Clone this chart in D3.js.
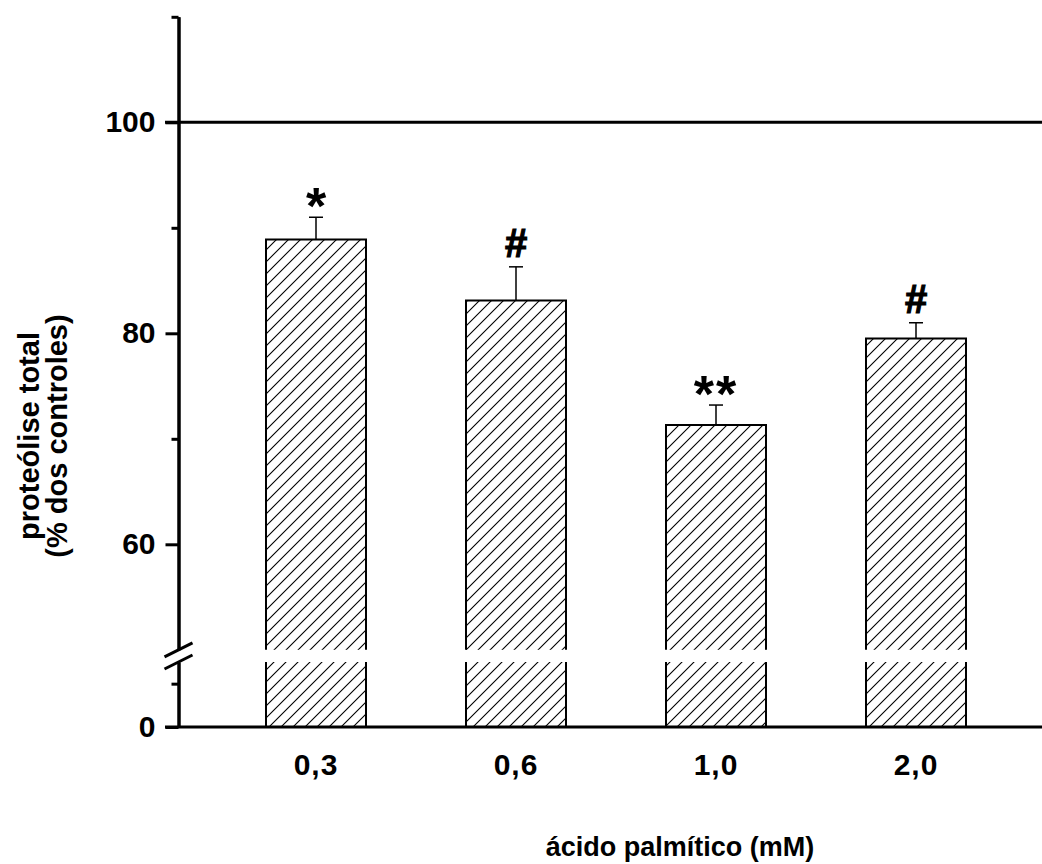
<!DOCTYPE html>
<html>
<head>
<meta charset="utf-8">
<script src="https://cdn.jsdelivr.net/npm/d3@7"></script>
<style>
  html, body { margin: 0; padding: 0; background: #fff; }
  svg { display: block; }
  text { font-family: "Liberation Sans", Arial, sans-serif; font-weight: bold; fill: #000; }
</style>
</head>
<body>
<svg id="chart" width="1042" height="864"></svg>
<script>
// Palmitic acid concentrations (mM) and total proteolysis (% of controls)
const doses = ["0,3", "0,6", "1,0", "2,0"];
const means = [88.9, 83.1, 71.3, 79.5];
const errors = [2.1, 3.2, 1.9, 1.5];
const marks = ["*", "#", "**", "#"];

// Axis ticks
const upperMajorTicks = [60, 80, 100];
const upperMinorTicks = [70, 90, 110];
const lowerMajorTicks = [0];
const lowerMinorTicks = [10];
const referenceLevel = 100;

const svg = d3.select("#chart");
const W = 1042, H = 864;
const axisX = 178.5;
const FONT = "'Liberation Sans', Arial, sans-serif";

// Broken y axis: an upper segment (50-110) and a short lower one (0-15)
const yUpper = d3.scaleLinear().domain([50, 110]).range([649.8, 16.8]);
const yLower = d3.scaleLinear().domain([0, 15]).range([727, 662]);
const x = d3.scaleBand().domain(doses).range([216, 1016])
  .paddingInner(0.5).paddingOuter(0.25);

// Diagonal hatch fill for the bars
const defs = svg.append("defs");
const pat = defs.append("pattern")
  .attr("id", "hatch").attr("patternUnits", "userSpaceOnUse")
  .attr("width", 12).attr("height", 12);
pat.append("rect").attr("width", 12).attr("height", 12).attr("fill", "#fff");
pat.append("path")
  .attr("d", "M0,12 L12,0 M-3,3 L3,-3 M9,15 L15,9")
  .attr("stroke", "#000").attr("stroke-width", 1.1);

const data = doses.map((d, i) => ({ dose: d, mean: means[i], err: errors[i], mark: marks[i] }));
const bw = x.bandwidth();

const bars = svg.append("g");
// upper pieces
bars.selectAll("rect.up").data(data).join("rect")
  .attr("class", "up")
  .attr("x", d => x(d.dose)).attr("width", bw)
  .attr("y", d => yUpper(d.mean))
  .attr("height", d => yUpper(50) - yUpper(d.mean))
  .attr("fill", "url(#hatch)");
bars.selectAll("path.upo").data(data).join("path")
  .attr("class", "upo")
  .attr("d", d => {
    const x0 = x(d.dose), x1 = x0 + bw, yt = yUpper(d.mean), yb = yUpper(50);
    return `M${x0},${yb} V${yt} H${x1} V${yb}`;
  })
  .attr("fill", "none").attr("stroke", "#000").attr("stroke-width", 2);
// lower pieces
bars.selectAll("rect.lo").data(data).join("rect")
  .attr("class", "lo")
  .attr("x", d => x(d.dose)).attr("width", bw)
  .attr("y", yLower(15))
  .attr("height", yLower(0) - yLower(15))
  .attr("fill", "url(#hatch)");
bars.selectAll("path.loo").data(data).join("path")
  .attr("class", "loo")
  .attr("d", d => {
    const x0 = x(d.dose), x1 = x0 + bw, yt = yLower(15), yb = yLower(0);
    return `M${x0},${yt} V${yb} M${x1},${yt} V${yb}`;
  })
  .attr("fill", "none").attr("stroke", "#000").attr("stroke-width", 2);

// Error bars (upper whisker only)
const eb = svg.append("g").attr("stroke", "#000").attr("stroke-width", 1.5);
eb.selectAll("line.v").data(data).join("line")
  .attr("x1", d => x(d.dose) + bw / 2).attr("x2", d => x(d.dose) + bw / 2)
  .attr("y1", d => yUpper(d.mean)).attr("y2", d => yUpper(d.mean + d.err));
eb.selectAll("line.c").data(data).join("line")
  .attr("x1", d => x(d.dose) + bw / 2 - 7).attr("x2", d => x(d.dose) + bw / 2 + 7)
  .attr("y1", d => yUpper(d.mean + d.err)).attr("y2", d => yUpper(d.mean + d.err));

// Significance marks
svg.append("g").selectAll("text").data(data).join("text")
  .attr("x", d => x(d.dose) + bw / 2)
  .attr("y", d => yUpper(d.mean + d.err) + (d.mark.includes("*") ? 7 : -10))
  .attr("text-anchor", "middle")
  .style("font-size", d => d.mark.includes("*") ? "52px" : "40px")
  .style("font-weight", "bold")
  .style("stroke", d => d.mark.includes("*") ? "none" : "#000")
  .style("stroke-width", 1.2)
  .attr("letter-spacing", d => d.mark === "**" ? 2 : 0)
  .text(d => d.mark);

// Reference line at 100 %
svg.append("line")
  .attr("x1", 165).attr("x2", W)
  .attr("y1", yUpper(referenceLevel)).attr("y2", yUpper(referenceLevel))
  .attr("stroke", "#000").attr("stroke-width", 3);

// Y axis, upper segment
function styleAxis(g) {
  g.selectAll("path.domain").attr("stroke-width", 3);
  g.selectAll(".tick line").attr("stroke-width", 3);
  g.selectAll(".tick text")
    .style("font-size", "30px").style("font-family", FONT)
    .style("font-weight", "bold").attr("fill", "#000");
}
svg.append("g").attr("transform", `translate(${axisX},0)`)
  .call(d3.axisLeft(yUpper).tickValues(upperMajorTicks).tickSize(13).tickSizeOuter(0).tickPadding(10))
  .call(styleAxis);
svg.append("g").attr("transform", `translate(${axisX},0)`)
  .call(d3.axisLeft(yUpper).tickValues(upperMinorTicks).tickSize(7).tickSizeOuter(0).tickFormat(""))
  .call(styleAxis);

// Y axis, lower segment
svg.append("g").attr("transform", `translate(${axisX},0)`)
  .call(d3.axisLeft(yLower).tickValues(lowerMajorTicks).tickSize(13).tickSizeOuter(0).tickPadding(10))
  .call(styleAxis);
svg.append("g").attr("transform", `translate(${axisX},0)`)
  .call(d3.axisLeft(yLower).tickValues(lowerMinorTicks).tickSize(7).tickSizeOuter(0).tickFormat(""))
  .call(styleAxis);

// Axis break marks
const brk = svg.append("g").attr("stroke", "#000").attr("stroke-width", 3);
[yUpper(50), yLower(15)].forEach(yb => {
  brk.append("line").attr("x1", axisX - 14).attr("y1", yb + 7)
    .attr("x2", axisX + 14).attr("y2", yb - 7);
});

// X axis
svg.append("line")
  .attr("x1", 165).attr("x2", W)
  .attr("y1", yLower(0)).attr("y2", yLower(0))
  .attr("stroke", "#000").attr("stroke-width", 3);
svg.append("g").selectAll("text").data(doses).join("text")
  .attr("x", d => x(d) + bw / 2).attr("y", 775)
  .attr("text-anchor", "middle").style("font-size", "30px")
  .attr("letter-spacing", 1)
  .text(d => d);

// Axis titles
svg.append("text").attr("x", 680).attr("y", 856)
  .attr("text-anchor", "middle").style("font-size", "27px")
  .text("ácido palmítico (mM)");
const yt = svg.append("text").attr("text-anchor", "middle")
  .attr("transform", "translate(0,436) rotate(-90)")
  .style("font-size", "29px");
yt.append("tspan").attr("x", 0).attr("y", 39).text("proteólise total");
yt.append("tspan").attr("x", 0).attr("y", 67).text("(% dos controles)");
</script>
</body>
</html>
